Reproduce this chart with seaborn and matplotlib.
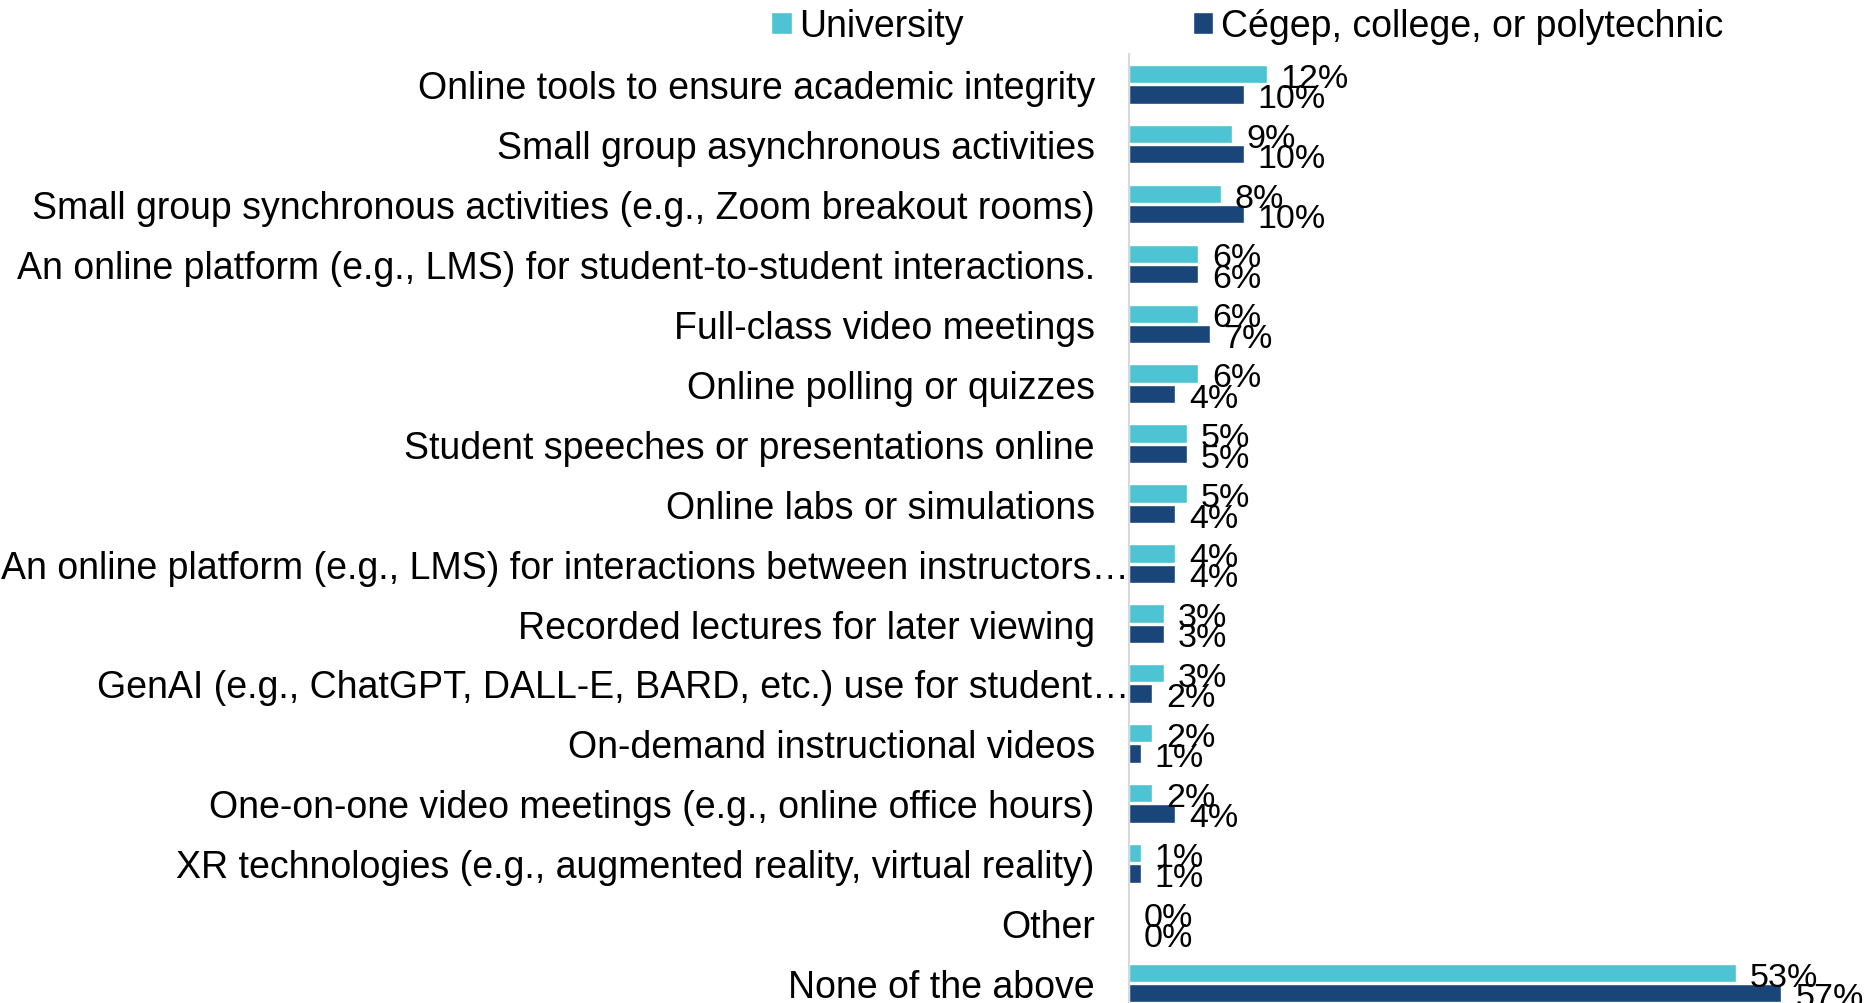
import matplotlib
matplotlib.use("Agg")
import matplotlib.pyplot as plt
import matplotlib.transforms as mtransforms
from matplotlib.patches import Patch
import seaborn as sns
import pandas as pd

# Data
categories = [
    "Online tools to ensure academic integrity",
    "Small group asynchronous activities",
    "Small group synchronous activities (e.g., Zoom breakout rooms)",
    "An online platform (e.g., LMS) for student-to-student interactions.",
    "Full-class video meetings",
    "Online polling or quizzes",
    "Student speeches or presentations online",
    "Online labs or simulations",
    "An online platform (e.g., LMS) for interactions between instructors\u2026",
    "Recorded lectures for later viewing",
    "GenAI (e.g., ChatGPT, DALL-E, BARD, etc.) use for student\u2026",
    "On-demand instructional videos",
    "One-on-one video meetings (e.g., online office hours)",
    "XR technologies (e.g., augmented reality, virtual reality)",
    "Other",
    "None of the above",
]
university = [12, 9, 8, 6, 6, 6, 5, 5, 4, 3, 3, 2, 2, 1, 0, 53]
college = [10, 10, 10, 6, 7, 4, 5, 4, 4, 3, 2, 1, 4, 1, 0, 57]
series_names = ["University", "Cégep, college, or polytechnic"]
colors = ["#4EC3D3", "#1A4579"]

df = pd.DataFrame({
    "category": categories * 2,
    "group": [series_names[0]] * len(categories) + [series_names[1]] * len(categories),
    "value": university + college,
})

sns.set_style("white")
plt.rcParams["font.family"] = ["Liberation Sans", "DejaVu Sans"]
plt.rcParams["text.color"] = "black"
plt.rcParams["ytick.color"] = "black"
fs = 27
fs_val = 24.5

fig = plt.figure(figsize=(18.7, 10.04), dpi=100)
ax = fig.add_axes([0.604, -0.01, 0.367, 0.955])

sns.barplot(data=df, x="value", y="category", hue="group", order=categories,
            hue_order=series_names, palette=colors, orient="h",
            width=0.68, gap=0.1, saturation=1, legend=False, ax=ax)

# value labels sit a touch below bar centre, like the original
for cont, vals in zip(ax.containers, [university, college]):
    texts = ax.bar_label(cont, labels=[f"{v}%" for v in vals], padding=10,
                         fontsize=fs_val, color="black", clip_on=False)
    for t in texts:
        x0, y0 = t.xyann
        t.xyann = (x0, y0 - 3)

ax.set_xlim(0, 60)
ax.set_ylim(len(categories) - 0.5, -0.5)
ax.set_xlabel("")
ax.set_ylabel("")
ax.set_xticks([])
ax.tick_params(axis="y", length=0, pad=25, labelsize=fs, labelcolor="black")
for s in ["top", "right", "bottom"]:
    ax.spines[s].set_visible(False)
ax.spines["left"].set_color("#D9D9D9")
ax.spines["left"].set_linewidth(1.5)

# truncated labels sit flush against the axis
shift = mtransforms.ScaledTranslation(25 / 72, 0, fig.dpi_scale_trans)
for lbl in ax.get_yticklabels():
    if lbl.get_text().endswith("\u2026"):
        lbl.set_transform(lbl.get_transform() + shift)

handles = [Patch(facecolor=c, label=n) for c, n in zip(colors, series_names)]
fig.legend(handles=handles, loc="center", bbox_to_anchor=(0.667, 0.973), ncol=2,
           frameon=False, fontsize=fs, handlelength=0.55, handleheight=0.55,
           handletextpad=0.2, columnspacing=6.1, borderaxespad=0,
           labelcolor="black")

fig.savefig("out.png", dpi=100)
